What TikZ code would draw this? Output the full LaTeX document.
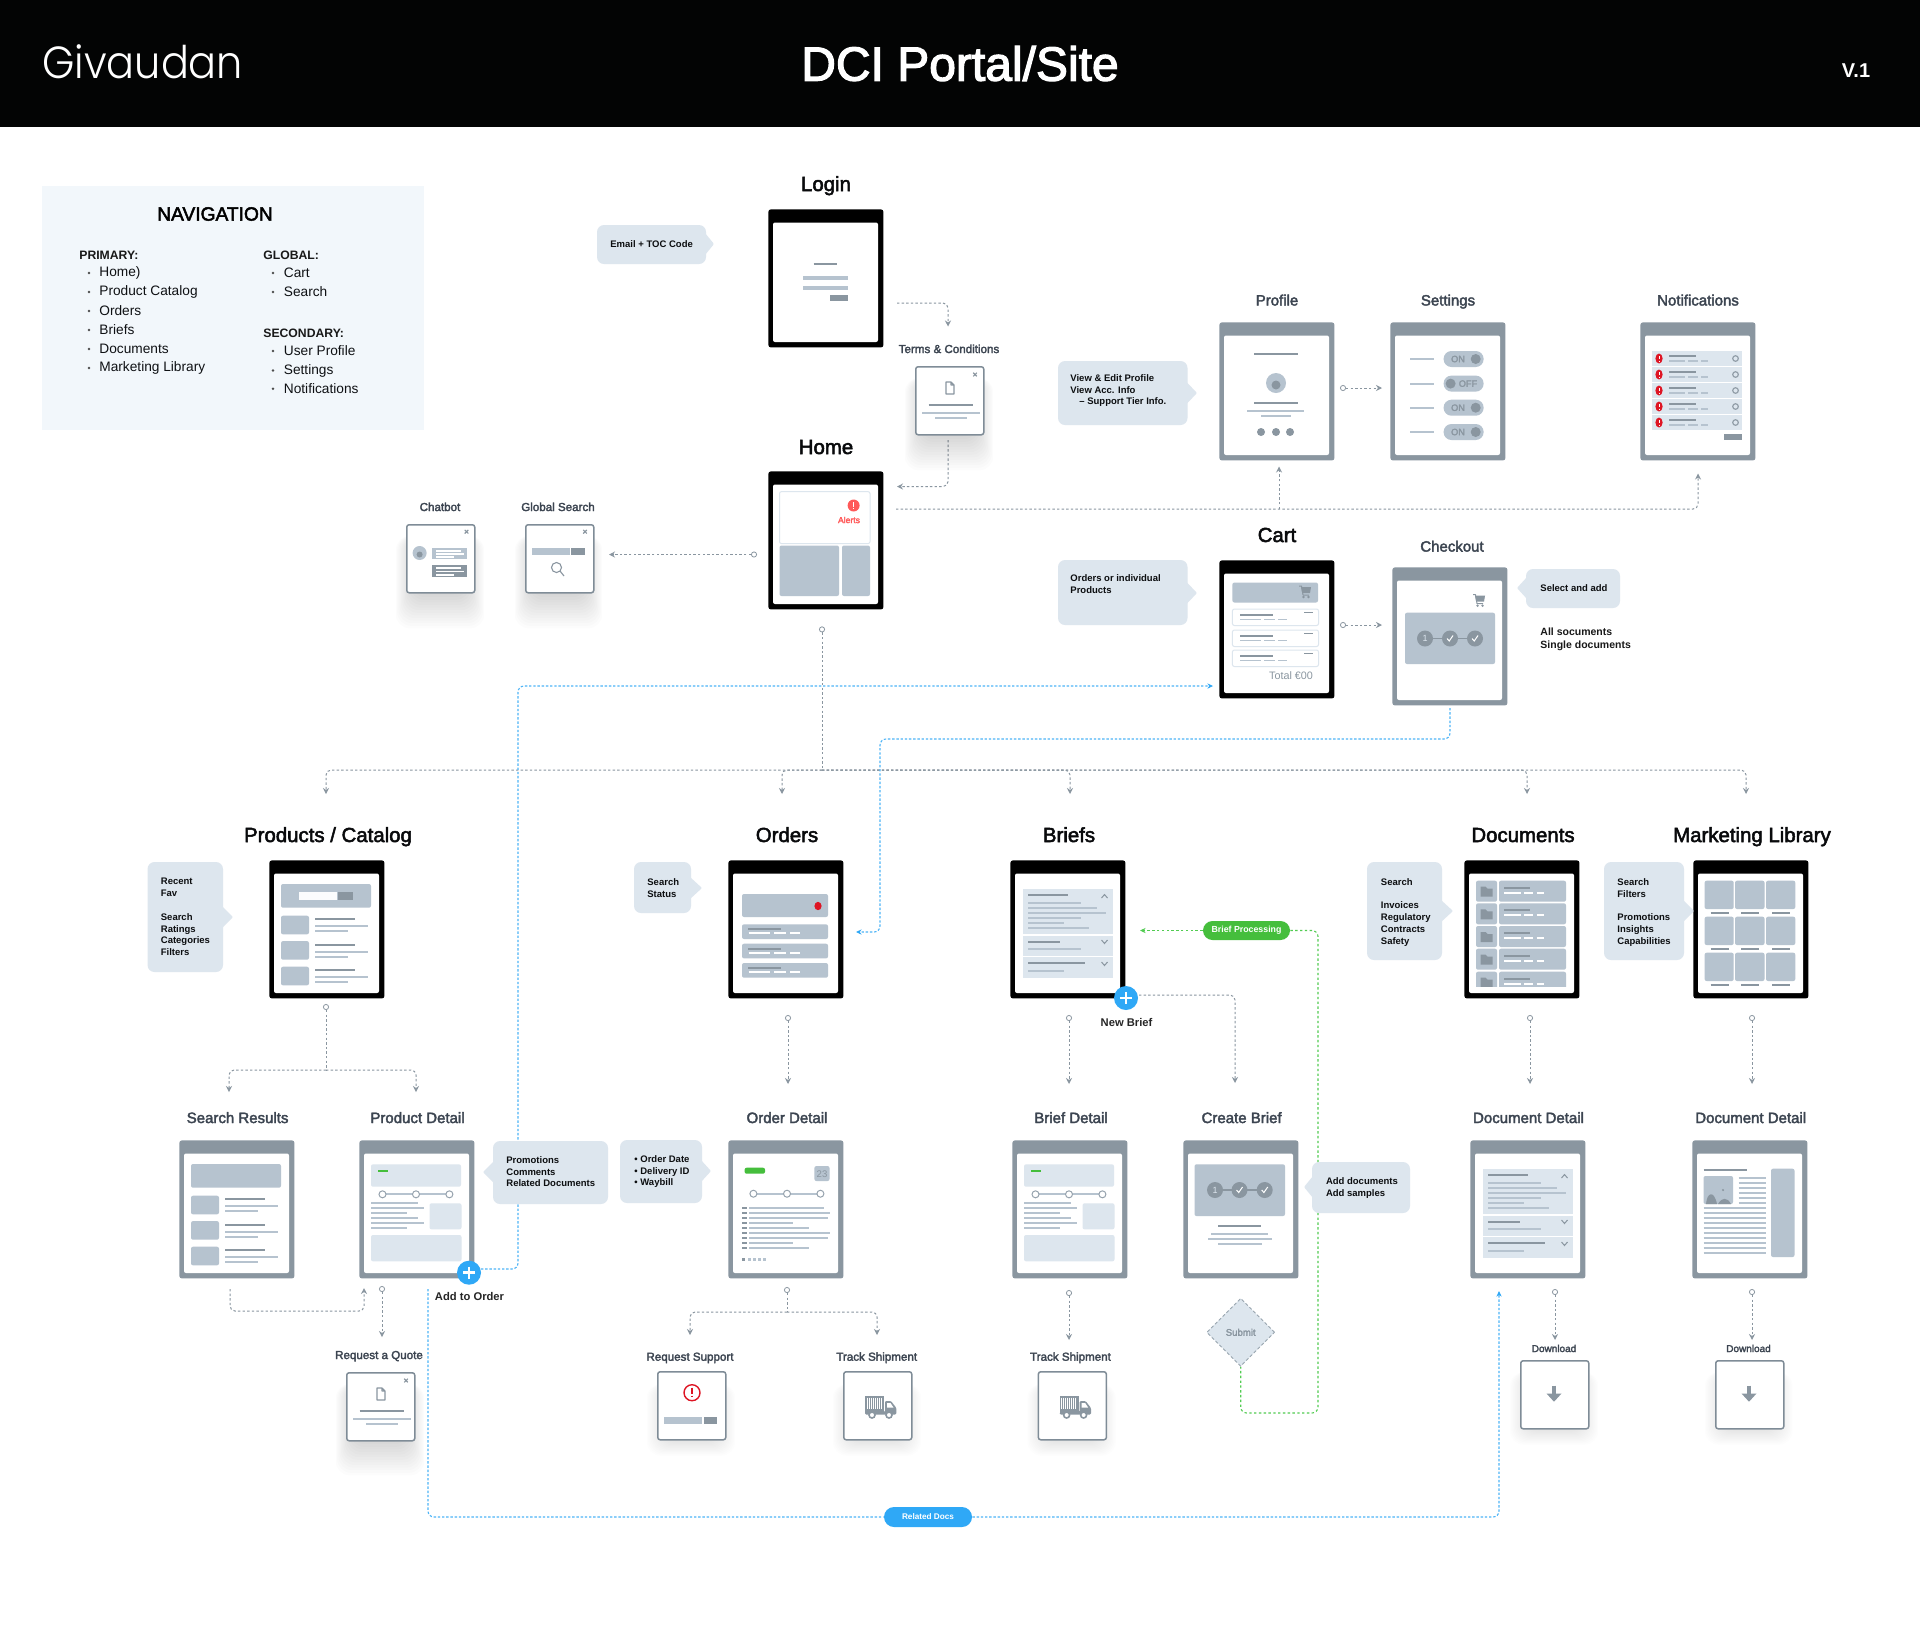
\documentclass[tikz,border=0pt]{standalone}
\usepackage{fontspec}
\setmainfont{Liberation Sans}
\newfontfamily\medf[FakeBold=2.5]{Liberation Sans}
\newfontfamily\logof{Poppins Light}
\usetikzlibrary{arrows.meta,shapes.geometric,shapes.misc,calc}
\definecolor{frameG}{HTML}{8A96A0}
\definecolor{blockB}{HTML}{B6C3CF}
\definecolor{lightB}{HTML}{DDE6EE}
\definecolor{navbg}{HTML}{F2F7FB}
\definecolor{cblue}{HTML}{2FA8F6}
\definecolor{cgreen}{HTML}{45BE3C}
\definecolor{cdash}{HTML}{52CC52}
\definecolor{cred}{HTML}{DE1524}
\definecolor{ink}{HTML}{3C4551}
\definecolor{popline}{HTML}{7F8C97}
\pgfdeclarelayer{conn}
\pgfsetlayers{conn,main}
\newcounter{autonode}
\newcommand{\tn}[3][]{\stepcounter{autonode}\node[inner sep=0pt,#1] (n\theautonode) at (#2) {#3};}
\tikzset{
 ttl/.style={font=\medf\fontsize{10.2}{12}\selectfont,text=black!85!ink,anchor=base},
 subt/.style={font=\medf\fontsize{7.5}{9}\selectfont,text=ink,anchor=base},
 capt/.style={font=\medf\fontsize{5.8}{7}\selectfont,text=ink,anchor=base},
 calt/.style={font=\bfseries\fontsize{4.75}{5.9}\selectfont,text=black!80!ink,align=left,anchor=north west},
 navh/.style={font=\bfseries\fontsize{6.1}{7}\selectfont,anchor=west,text=black!90},
 navi/.style={font=\fontsize{6.85}{8}\selectfont,anchor=west,text=black!75!ink},
 screenbox/.style={minimum width=57.5pt,minimum height=69pt,inner sep=0pt,rounded corners=1.2pt,anchor=north west},
 popbox/.style={draw=popline,line width=.75pt,fill=white,minimum width=34pt,minimum height=34pt,inner sep=0pt,rounded corners=1.2pt,anchor=north west},
 lbar/.style={draw=blockB,line width=.95pt},
 dbar/.style={draw=frameG,line width=.95pt},
 wbar/.style={draw=white,line width=.85pt},
 conn/.style={draw=frameG,line width=.5pt,dash pattern=on 1.2pt off 1.1pt,rounded corners=2.5pt},
 bconn/.style={draw=cblue!85!white,line width=.55pt,dash pattern=on 1.2pt off .9pt,rounded corners=3pt},
 gconn/.style={draw=cdash,line width=.55pt,dash pattern=on 1.2pt off 1.2pt,rounded corners=3pt},
 gtip/.style={-{Stealth[length=3pt,width=3pt,color=frameG]}},
 btip/.style={-{Stealth[length=2.8pt,width=2.6pt,color=cblue]}},
 grtip/.style={-{Stealth[length=2.8pt,width=2.6pt,color=cdash]}},
 dotn/.style={circle,draw=frameG,fill=white,line width=.4pt,minimum size=2.6pt,inner sep=0pt},
 plusn/.style={circle,fill=cblue,minimum size=12pt,inner sep=0pt},
}
\newcommand{\wfat}[3]{\begin{scope}[shift={(#1,#2)}]#3\end{scope}}
\newcommand{\wfscreen}[4]{\node[screenbox,fill=#4] (#1) at (#2,#3) {};
 \fill[white,rounded corners=1pt] (#2+5,#3+13.5) rectangle (#2+110,#3+133);}
\newcommand{\wfB}[5]{\fill[#5,rounded corners=1pt] (#1,#2) rectangle (#3,#4);}
\newcommand{\wfS}[5]{\fill[#5] (#1,#2) rectangle (#3,#4);}
\newcommand{\wfL}[3]{\draw[lbar] (#1,#3) -- (#2,#3);}
\newcommand{\wfD}[3]{\draw[dbar] (#1,#3) -- (#2,#3);}
\newcommand{\wfW}[3]{\draw[wbar] (#1,#3) -- (#2,#3);}
\newcommand{\wfUp}[2]{\draw[frameG,line width=.5pt] (#1-3,#2+2) -- (#1,#2-1.5) -- (#1+3,#2+2);}
\newcommand{\wfDn}[2]{\draw[frameG,line width=.5pt] (#1-3,#2-2) -- (#1,#2+1.5) -- (#1+3,#2-2);}
\newcommand{\wfX}[2]{\draw[frameG,line width=.55pt] (#1-1.8,#2-1.8) -- (#1+1.8,#2+1.8) (#1-1.8,#2+1.8) -- (#1+1.8,#2-1.8);}
\newcommand{\wfCart}[2]{\draw[frameG,line width=.5pt,line join=round] (#1-6,#2-6) -- (#1-3.5,#2-6) -- (#1-2,#2+3) -- (#1+4,#2+3);
 \fill[frameG] (#1-4,#2-5) -- (#1+6,#2-5) -- (#1+5,#2+1) -- (#1-2.8,#2+1) -- cycle;
 \fill[frameG] (#1-1.5,#2+5) circle (1.3) (#1+3.5,#2+5) circle (1.3);}
\newcommand{\wfDoc}[2]{\draw[frameG,line width=.6pt,line join=round] (#1-4,#2-6) -- (#1+1,#2-6) -- (#1+4,#2-3) -- (#1+4,#2+6) -- (#1-4,#2+6) -- cycle (#1+1,#2-6) -- (#1+1,#2-3) -- (#1+4,#2-3);}
\newcommand{\wfFolder}[2]{\fill[frameG] (#1-6,#2-5) -- (#1-1,#2-5) -- (#1+1,#2-3) -- (#1+6,#2-3) -- (#1+6,#2+5) -- (#1-6,#2+5) -- cycle;}
\newcommand{\wfTime}[4]{\draw[blockB,line width=1.1pt] (#1,#4) -- (#3,#4);
 \foreach \cx in {#1,#2,#3} {\draw[frameG!70!blockB,fill=white,line width=.5pt] (\cx,#4) circle (3.5);}}
\newcommand{\wfSteps}[4]{\draw[frameG,line width=.9pt] (#1,#4) -- (#3,#4);
 \fill[frameG] (#1,#4) circle (8) (#2,#4) circle (8) (#3,#4) circle (8);
 \tn[font=\fontsize{4.5}{5}\selectfont,text=lightB]{#1,#4}{1}
 \draw[white,line width=.5pt] (#2-3,#4) -- (#2-.8,#4+2.5) -- (#2+3,#4-3);
 \draw[white,line width=.5pt] (#3-3,#4) -- (#3-.8,#4+2.5) -- (#3+3,#4-3);}
\newcommand{\wfListRows}{
 \foreach \oo in {0,25.4,51}{
  \wfB{12}{55.7+\oo}{40}{74.3+\oo}{blockB}
  \wfD{46}{86}{59.3+\oo}
  \wfL{46}{98.5}{66.3+\oo}
  \wfL{46}{78.5}{71.3+\oo}}}
\newcommand{\wfAccordion}{
 \wfS{13}{29}{102.7}{74}{lightB}\wfS{13}{75.7}{102.7}{95.7}{lightB}\wfS{13}{97.3}{102.7}{117.7}{lightB}
 \wfD{18}{58}{35.3}\wfUp{94.5}{36}
 \wfL{18}{70.6}{42.7}\wfL{18}{87}{48}\wfL{18}{96}{53}\wfL{18}{71}{58}\wfL{18}{53.5}{63}\wfL{18}{78.7}{68}
 \wfD{18}{50}{81.7}\wfDn{94.5}{82}\wfL{18}{71}{89}
 \wfD{18}{75}{103.3}\wfDn{94.5}{104}\wfL{18}{53.5}{110.7}}
\newcommand{\wfDetail}{
 \wfB{12}{24.3}{102}{46.7}{lightB}
 \wfS{19}{29.8}{29}{31.8}{cgreen}
 \wfTime{23.5}{57}{90.4}{54.3}
 \wfL{12}{58.5}{63.3}\wfL{12}{65}{68.3}\wfL{12}{48}{73.3}\wfL{12}{58.5}{78.3}\wfL{12}{65}{83.3}\wfL{12}{48}{88.3}
 \wfB{70.5}{63.3}{102.5}{89.3}{lightB}
 \wfB{12}{95}{102.5}{121.3}{lightB}}
\newcommand{\wfToggle}[4]{\fill[blockB,rounded corners=3.9pt] (53.6,#1-8) rectangle (93.6,#1+8);
 \fill[frameG] (#2,#1) circle (5);
 \tn[font=\medf\fontsize{4.6}{5}\selectfont,text=frameG]{#3,#1}{#4}
 \wfL{20}{44}{#1}}
\newcommand{\softshadow}[6]{\foreach \ii in {1,...,14}{\fill[black,opacity=#5,rounded corners=7pt] ({#1+8-\ii*1.3},{#2+12}) rectangle ({#3-8+\ii*1.3},{#4+\ii*#6});}}
\newcommand{\wfPopDoc}{\wfX{60}{8.5}\wfDoc{35}{22}\wfD{13.5}{57.5}{38.7}\wfL{7}{64.5}{46.7}\wfL{20.4}{52}{51.8}}
\newcommand{\wfDown}{\draw[frameG,line width=1.8pt] (34,25.7) -- (34,36);\fill[frameG] (26.5,33.5) -- (41.5,33.5) -- (34,41.7) -- cycle;}
\newcommand{\callbox}[6]{\fill[lightB,rounded corners=3.5pt] (#1,#2) rectangle (#3,#4);
 \ifdim #5pt>#3pt \fill[lightB,rounded corners=.5pt] (#3-1,#6-11) -- (#5,#6) -- (#3-1,#6+11) -- cycle;
 \else \fill[lightB,rounded corners=.5pt] (#1+1,#6-11) -- (#5,#6) -- (#1+1,#6+11) -- cycle; \fi}
\begin{document}
\begin{tikzpicture}[x=.5pt,y=-.5pt]
\useasboundingbox (0,0) rectangle (1920,1629);
% ---------- header
\fill[black!95!ink] (0,0) rectangle (1920,127);
\tn[font=\logof\fontsize{22.5}{26}\selectfont,text=white,anchor=west,xscale=.92]{42,62}{Givaudan}
\tn[font=\medf\fontsize{24}{28}\selectfont,text=white]{960,63.5}{DCI Portal/Site}
\tn[font=\bfseries\fontsize{10}{12}\selectfont,text=white]{1856,71}{V.1}
% ---------- navigation
\fill[navbg] (42,186) rectangle (424,430);
\tn[font=\medf\fontsize{9.6}{11}\selectfont,text=black]{215,214}{NAVIGATION}
\tn[navh]{79,254.8}{PRIMARY:}
\foreach \yy/\tx in {273/Home),292/Product Catalog,311/Orders,330/Briefs,349/Documents,368/Marketing Library}{
 \fill[black!70] (89,\yy) circle (1.4);\tn[navi]{99,\yy}{\tx}}
\tn[navh]{263,254.8}{GLOBAL:}
\foreach \yy/\tx in {273/Cart,292/Search}{
 \fill[black!70] (273,\yy) circle (1.4);\tn[navi]{283.5,\yy}{\tx}}
\tn[navh]{263,333}{SECONDARY:}
\foreach \yy/\tx in {351/User Profile,370.5/Settings,388.7/Notifications}{
 \fill[black!70] (273,\yy) circle (1.4);\tn[navi]{283.5,\yy}{\tx}}
% ---------- screens row 1
\tn[ttl]{826,191}{Login}
\wfscreen{login}{768}{209}{black}
\wfat{768}{209}{\wfD{45.6}{68.8}{54.6}
 \draw[blockB,line width=2pt] (35,68.5) -- (80,68.5) (35,78.6) -- (80,78.6);
 \wfS{61.6}{86}{80}{92}{frameG}}
\tn[ttl]{826,454}{Home}
\wfscreen{home}{768}{471}{black}
\wfat{768}{471}{\draw[lightB,fill=white,line width=.5pt,rounded corners=1pt] (11.5,20.6) rectangle (102,72.6);
 \fill[red!65!white] (85.6,34.5) circle (6);
 \draw[white,line width=.7pt] (85.6,31) -- (85.6,35.5) (85.6,37) -- (85.6,38.2);
 \tn[font=\medf\fontsize{4.3}{5}\selectfont,text=red!65!white]{81,49}{Alerts}
 \wfB{11.5}{74.5}{71}{125}{blockB}\wfB{74}{74.5}{102}{125}{blockB}}
\tn[capt]{949,353}{Terms \& Conditions}
\softshadow{915}{366}{983}{434}{.011}{2.6}
\node[popbox] (tc) at (915,366) {};
\wfat{915}{366}{\wfPopDoc}
\tn[capt]{440,511}{Chatbot}
\softshadow{406}{524}{474}{592}{.011}{2.6}
\node[popbox] (chat) at (406,524) {};
\wfat{406}{524}{\wfX{60.5}{7.7}
 \fill[blockB] (13.6,29) circle (7);\fill[frameG] (13.6,30.5) circle (3) ;
 \wfS{26}{24}{61}{35}{blockB}\wfW{30}{55}{27}\wfW{30}{58}{30}\wfW{30}{48}{33}
 \wfS{26}{41}{61}{52.7}{frameG}\wfW{30}{55}{44}\wfW{30}{58}{47.5}\wfW{30}{48}{51}}
\tn[capt]{558,511}{Global Search}
\softshadow{525}{524}{592}{592}{.011}{2.6}
\node[popbox] (gsearch) at (525,524) {};
\wfat{525}{524}{\wfX{60}{7.7}
 \wfS{6.7}{24}{44.6}{31}{blockB}\wfS{46}{24}{60.2}{31}{frameG}
 \draw[frameG,line width=.55pt] (31.5,43.5) circle (5) (35,47) -- (39,52);}
\tn[subt]{1277,305.5}{Profile}
\wfscreen{profile}{1219}{322}{frameG}
\wfat{1219}{322}{\wfD{35}{78.7}{32}
 \fill[blockB] (57,61) circle (10);\fill[frameG] (57,63) circle (4.5);
 \wfD{35}{78.7}{81}\wfL{28}{85}{89}\wfL{42}{72}{94}
 \fill[frameG] (42,110) circle (4) (57,110) circle (4) (71,110) circle (4);}
\tn[subt]{1448,305.5}{Settings}
\wfscreen{settings}{1390}{322}{frameG}
\wfat{1390}{322}{\wfToggle{37}{85.7}{68}{ON}\wfToggle{61.6}{60.6}{78}{OFF}\wfToggle{85.7}{85.7}{68}{ON}\wfToggle{110}{85.7}{68}{ON}}
\tn[subt]{1698,305.5}{Notifications}
\wfscreen{notif}{1640}{322}{frameG}
\wfat{1640}{322}{\foreach \rr in {29,45,61,77,93}{
  \wfS{12}{\rr}{101.7}{\rr+15}{lightB}
  \fill[cred] (19,\rr+7.5) ellipse (3.6 and 5);
  \draw[white,line width=.35pt] (19,\rr+5) -- (19,\rr+8.4) (19,\rr+9.5) -- (19,\rr+10.5);
  \wfD{29}{55.5}{\rr+5}
  \wfL{29}{45}{\rr+10}\wfL{48}{58}{\rr+10}\wfL{61}{68}{\rr+10}
  \draw[frameG!80!blockB,line width=.6pt] (95.5,\rr+7.5) circle (2.8);}
 \wfS{84}{112}{102}{118}{frameG}}
\tn[ttl]{1277,542}{Cart}
\wfscreen{cart}{1219}{560}{black}
\wfat{1219}{560}{\wfB{13.4}{22.5}{99}{42.5}{blockB}\wfCart{86}{32}
 \foreach \rr in {49,70,90}{
  \draw[lightB,fill=white,line width=.5pt,rounded corners=1pt] (13.4,\rr) rectangle (99.5,\rr+16.5);
  \wfD{21}{54}{\rr+6}\wfD{85}{94}{\rr+3.5}
  \wfL{21}{42}{\rr+10.5}\wfL{45}{56}{\rr+10.5}\wfL{59}{68}{\rr+10.5}}
 \tn[font=\fontsize{5.4}{6}\selectfont,text=frameG]{72,116}{Total €00}}
\tn[subt]{1452,551.6}{Checkout}
\wfscreen{checkout}{1392}{567}{frameG}
\wfat{1392}{567}{\wfCart{87}{33.7}\wfB{13}{45.7}{103}{97}{blockB}\wfSteps{33}{58}{83}{71.5}}
% ---------- section row
\tn[ttl]{328,842}{Products / Catalog}
\wfscreen{products}{269}{860}{black}
\wfat{269}{860}{\wfB{12}{24}{102}{47.7}{blockB}\wfS{30}{32.3}{68}{40}{white!95!blockB}\wfS{69}{32.3}{83.5}{40}{frameG}\wfListRows}
\tn[ttl]{787,842}{Orders}
\wfscreen{orders}{728}{860}{black}
\wfat{728}{860}{\wfB{14}{34}{100}{57}{blockB}
 \fill[cred] (90,46) ellipse (3.6 and 4.2);
 \foreach \rr in {64.3,83.7,103}{
 \wfB{14}{\rr}{100}{\rr+14.7}{blockB}\wfD{20}{53}{\rr+5}\wfW{20.6}{42}{\rr+9}\wfW{46}{58}{\rr+9}\wfW{62}{71.6}{\rr+9}}}
\tn[ttl]{1069,842}{Briefs}
\wfscreen{briefs}{1010}{860}{black}
\wfat{1010}{860}{\wfAccordion}
\tn[ttl]{1523,842}{Documents}
\wfscreen{documents}{1464}{860}{black}
\wfat{1464}{860}{\begin{scope}\clip (5,13.5) rectangle (110,126);
 \foreach \rr in {20.7,43.3,66,88.7,111.7}{
 \wfB{12}{\rr}{33}{\rr+21}{blockB}\wfB{35}{\rr}{102}{\rr+21}{blockB}
 \wfFolder{22.5}{\rr+11}
 \wfD{40}{66}{\rr+7}\wfW{40}{57}{\rr+12}\wfW{60}{69}{\rr+12}\wfW{72.5}{79.5}{\rr+12}}
 \end{scope}}
\tn[ttl]{1752,842}{Marketing Library}
\wfscreen{marketing}{1693}{860}{black}
\wfat{1693}{860}{\foreach \rr in {20.7,56.7,92.7}{
 \wfB{11.6}{\rr}{40.7}{\rr+28.3}{blockB}\wfB{42}{\rr}{71.5}{\rr+28.3}{blockB}\wfB{73}{\rr}{102.3}{\rr+28.3}{blockB}
 \wfD{17.6}{35.7}{\rr+32.3}\wfD{48}{66.4}{\rr+32.3}\wfD{79}{97}{\rr+32.3}}}
% ---------- detail row
\tn[subt]{237.6,1123}{Search Results}
\wfscreen{sresults}{179}{1140}{frameG}
\wfat{179}{1140}{\wfB{12}{24}{102}{47.7}{blockB}\wfListRows}
\tn[subt]{417.5,1123}{Product Detail}
\wfscreen{pdetail}{359}{1140}{frameG}
\wfat{359}{1140}{\wfDetail}
\tn[subt]{787,1123}{Order Detail}
\wfscreen{odetail}{728}{1140}{frameG}
\wfat{728}{1140}{\wfB{16.6}{27.7}{37}{33.7}{cgreen}
 \wfB{86.4}{26}{101.5}{41}{blockB}
 \tn[font=\fontsize{4.8}{5}\selectfont,text=frameG]{94,34.5}{23}
 \wfTime{25.4}{59}{92.4}{53.7}
 \foreach \yy/\xe in {68.3/96,73.3/102,78.3/99.5,83.3/64.5,88.3/81,93.3/102,98.3/99.5,103.3/64.5,108.3/81}{
  \wfS{14}{\yy-1}{19}{\yy+1}{frameG}\wfL{21.4}{\xe}{\yy}}
 \wfS{14}{117.5}{17}{120.5}{frameG}
 \foreach \xx in {20,25,30,35}{\wfS{\xx}{117.5}{\xx+3}{120.5}{blockB}}}
\tn[subt]{1071,1123}{Brief Detail}
\wfscreen{bdetail}{1012}{1140}{frameG}
\wfat{1012}{1140}{\wfDetail}
\tn[subt]{1241.6,1123}{Create Brief}
\wfscreen{cbrief}{1183}{1140}{frameG}
\wfat{1183}{1140}{\wfB{11.5}{24.3}{102}{76}{blockB}\wfSteps{32}{56.5}{81.7}{50}
 \wfD{35}{78}{86}\wfL{28}{85}{94.3}\wfL{25}{89}{99.3}\wfL{35}{79}{104.3}}
\tn[subt]{1528.5,1123}{Document Detail}
\wfscreen{ddetail}{1470}{1140}{frameG}
\wfat{1470}{1140}{\wfAccordion}
\tn[subt]{1750.7,1123}{Document Detail}
\wfscreen{ddetailb}{1692}{1140}{frameG}
\wfat{1692}{1140}{\wfD{11.5}{55}{29.7}
 \wfB{11.5}{36}{41}{64}{blockB}
 \fill[frameG] (14,64) .. controls (15,52) and (22,50) .. (25,64) -- cycle;
 \fill[frameG] (26,64) .. controls (30,57) and (35,57) .. (39,64) -- cycle;
 \fill[frameG] (31,50) circle (1.2);
 \foreach \yy in {38,43,48,53,58,63}{\wfL{46.5}{74}{\yy}}
 \foreach \yy in {68,73,78,83,88,93,98,103,108,113}{\wfL{11.5}{74}{\yy}}
 \wfB{79}{28.7}{102.5}{117}{blockB}}
% ---------- popups lower
\tn[capt]{379,1359}{Request a Quote}
\softshadow{346}{1372}{414}{1439}{.011}{2.6}
\node[popbox] (quote) at (346,1372) {};
\wfat{346}{1372}{\wfPopDoc}
\tn[capt]{690,1360.7}{Request Support}
\softshadow{657}{1372}{725}{1439}{.008}{1.2}
\node[popbox] (support) at (657,1371) {};
\wfat{657}{1371}{\draw[cred,line width=.7pt] (35,21.7) circle (8);
 \draw[cred,line width=.8pt] (35,16.5) -- (35,23) (35,24.6) -- (35,26.2);
 \wfS{7}{45.7}{45}{53.3}{blockB}\wfS{47}{45.7}{60}{53.3}{frameG}}
\newcommand{\wfTruck}{\fill[frameG] (22,24.7) rectangle (41,41.5);
 \foreach \xx in {24,26,28,30,32,34,36,38}{\draw[white,line width=.25pt] (\xx,26.5) -- (\xx,38);}
 \fill[frameG,rounded corners=.6pt] (42,30) -- (48,30) -- (53.4,37) -- (53.4,43.5) -- (22,43.5) -- (22,41) -- (42,41) -- cycle;
 \fill[white] (44,32) -- (47.5,32) -- (50.5,36.5) -- (44,36.5) -- cycle;
 \draw[frameG,fill=white,line width=.8pt] (29,44) circle (3) (46,44) circle (3);}
\tn[capt]{876.7,1360.7}{Track Shipment}
\softshadow{843}{1372}{911}{1439}{.008}{1.2}
\node[popbox] (trucka) at (843,1371) {};
\wfat{843}{1371}{\wfTruck}
\tn[capt]{1070.5,1360.7}{Track Shipment}
\softshadow{1037.6}{1372}{1105.6}{1439}{.008}{1.2}
\node[popbox] (truckb) at (1037.6,1371) {};
\wfat{1037.6}{1371}{\wfTruck}
\tn[font=\medf\fontsize{5}{6}\selectfont,text=ink,anchor=base]{1554,1352}{Download}
\softshadow{1520}{1360}{1588}{1428}{.008}{1.2}
\node[popbox] (dla) at (1520,1360) {};
\wfat{1520}{1360}{\wfDown}
\tn[font=\medf\fontsize{5}{6}\selectfont,text=ink,anchor=base]{1748.5,1352}{Download}
\softshadow{1715}{1360}{1782.5}{1428}{.008}{1.2}
\node[popbox] (dlb) at (1715,1360) {};
\wfat{1715}{1360}{\wfDown}
\node[diamond,aspect=1,draw=frameG!70!blockB,fill=lightB,line width=.45pt,dash pattern=on 1.6pt off 1.1pt,minimum size=34pt,inner sep=0pt,font=\medf\fontsize{4.8}{5}\selectfont,text=frameG] (submit) at (1240.7,1332.3) {Submit};
% ---------- callouts
\callbox{597}{225}{706}{264}{714}{244}
\tn[font=\bfseries\fontsize{4.75}{5.9}\selectfont,text=black!80!ink,anchor=west]{610,244}{Email + TOC Code}
\callbox{1058}{361}{1187.5}{425}{1197}{393}
\tn[calt]{1070,374}{View \& Edit Profile\\View Acc. Info\\\hspace*{4.5pt}– Support Tier Info.}
\callbox{1058}{560}{1187.5}{625}{1197}{593}
\tn[calt]{1070,574}{Orders or individual\\Products}
\callbox{1526}{569}{1620}{608}{1517}{588}
\tn[font=\bfseries\fontsize{4.75}{5.9}\selectfont,text=black!80!ink,anchor=west]{1540,588}{Select and add}
\tn[font=\bfseries\fontsize{5.25}{6.6}\selectfont,text=black!90,align=left,anchor=north west]{1540,627}{All socuments\\Single documents}
\callbox{147.5}{862}{223}{972}{233}{917}
\tn[calt]{160.5,878}{Recent\\Fav\\[5.9pt]Search\\Ratings\\Categories\\Filters}
\callbox{634}{862}{691}{913}{702}{888}
\tn[calt]{647,878}{Search\\Status}
\callbox{493}{1141}{608}{1204}{483}{1172}
\tn[calt]{506,1156}{Promotions\\Comments\\Related Documents}
\callbox{620}{1140}{702}{1203}{711}{1171}
\tn[calt]{634,1155}{• Order Date\\• Delivery ID\\• Waybill}
\callbox{1367}{862}{1442}{960}{1453}{911}
\tn[calt]{1380.5,878}{Search\\[5.9pt]Invoices\\Regulatory\\Contracts\\Safety}
\callbox{1604}{862}{1684}{960}{1694}{911}
\tn[calt]{1617,878}{Search\\Filters\\[5.9pt]Promotions\\Insights\\Capabilities}
\callbox{1312}{1162}{1410}{1213}{1304}{1187}
\tn[calt]{1325.6,1177}{Add documents\\Add samples}
% ---------- buttons, pills, dots
\node[plusn] (plusPD) at (469,1272.7) {};
\draw[white,line width=1.25pt] (plusPD.center)+(-6,0) -- +(6,0) (plusPD.center)+(0,-6) -- +(0,6);
\tn[font=\bfseries\fontsize{5.6}{7}\selectfont,text=black!85]{469.5,1296.7}{Add to Order}
\node[plusn] (plusB) at (1126,998) {};
\draw[white,line width=1.25pt] (plusB.center)+(-6,0) -- +(6,0) (plusB.center)+(0,-6) -- +(0,6);
\tn[font=\bfseries\fontsize{5.6}{7}\selectfont,text=black!85]{1126.5,1022}{New Brief}
\node[rounded rectangle,fill=cgreen,text=white,minimum width=43.5pt,minimum height=9.5pt,inner sep=0pt,font=\bfseries\fontsize{4.4}{5}\selectfont] (pillBP) at (1246.5,930.5) {Brief Processing};
\node[rounded rectangle,fill=cblue,text=white,minimum width=44pt,minimum height=10pt,inner sep=0pt,font=\bfseries\fontsize{4.1}{5}\selectfont] (pillRD) at (928,1517) {Related Docs};
\node[dotn] (dProfile) at (1343,388) {};
\node[dotn] (dCart) at (1343,625) {};
\node[dotn] (dHomeL) at (754,554.5) {};
\node[dotn] (dHome) at (822,629.4) {};
\node[dotn] (dProducts) at (326,1007) {};
\node[dotn] (dOrders) at (788,1018) {};
\node[dotn] (dBriefs) at (1069,1018) {};
\node[dotn] (dDocs) at (1530,1018) {};
\node[dotn] (dMkt) at (1752,1018) {};
\node[dotn] (dPD) at (382,1289) {};
\node[dotn] (dOD) at (787,1290) {};
\node[dotn] (dBD) at (1069,1293) {};
\node[dotn] (dDD) at (1555,1292) {};
\node[dotn] (dDDb) at (1752,1292) {};
% ---------- free connector ends
\foreach \nm/\cc in {a1/{897,303},a2/{948,326.5},a3/{948,440},a4/{897,486.5},a5/{896,509},a6/{1698,473.5},a7/{1279,509},a8/{1279,466.5},
 a9/{1382,388},a10/{1382,625},a11/{609,554.5},t0/{822,770},t1/{326,794},t2/{782,794},t3/{1070,794},t4/{1527,794},t5/{1746,794},
 b1/{481,1269},b2/{518,686},b3/{1213,686},b4/{1450,708},b5/{880,739},b6/{856,932},
 p1/{326,1070},p2/{229,1092},p3/{416,1092},e1/{788,1084},e2/{1069,1084},e3/{1530,1084},e4/{1752,1084},
 s1/{230,1289},s2/{364,1311},s3/{364,1288},q1/{382,1337},o1/{787,1312},o2/{690,1335},o3/{877,1335},
 r1/{428,1289},r2/{1499,1291},n1/{1139,995},n2/{1235,1083},g1/{1140,930.5},g2/{1318,1413},
 v1/{1069,1340},v2/{1555,1340},v3/{1752,1340}}{\coordinate (\nm) at (\cc);}
\begin{pgfonlayer}{conn}
\fill[white] (0,0) rectangle (1920,1629);
\draw[conn,gtip] (a1) -| (a2);
\draw[conn,gtip] (a3) |- (a4);
\draw[conn,gtip] (a5) -| (a6);
\draw[conn,gtip] (a7) -- (a8);
\draw[conn,gtip] (dProfile) -- (a9);
\draw[conn,gtip] (dCart) -- (a10);
\draw[conn,gtip] (dHomeL) -- (a11);
\draw[conn] (dHome) -- (t0);
\foreach \ee in {t1,t2,t3,t4,t5}{\draw[conn,gtip] (t0) -| (\ee);}
\draw[bconn,btip] (b1) -| (b2) -- (b3);
\draw[bconn,btip] (b4) |- (b5) |- (b6);
\draw[conn] (dProducts) -- (p1);
\draw[conn,gtip] (p1) -| (p2);
\draw[conn,gtip] (p1) -| (p3);
\draw[conn,gtip] (dOrders) -- (e1);
\draw[conn,gtip] (dBriefs) -- (e2);
\draw[conn,gtip] (dDocs) -- (e3);
\draw[conn,gtip] (dMkt) -- (e4);
\draw[conn,gtip] (s1) |- (s2) -- (s3);
\draw[conn,gtip] (dPD) -- (q1);
\draw[conn] (dOD) -- (o1);
\draw[conn,gtip] (o1) -| (o2);
\draw[conn,gtip] (o1) -| (o3);
\draw[bconn] (r1) |- (pillRD.west);
\draw[bconn,btip] (pillRD.east) -| (r2);
\draw[conn,gtip] (n1) -| (n2);
\draw[gconn,grtip] (pillBP.west) -- (g1);
\draw[gconn] (pillBP.east) -| (g2) -| (submit.south);
\draw[conn,gtip] (dBD) -- (v1);
\draw[conn,gtip] (dDD) -- (v2);
\draw[conn,gtip] (dDDb) -- (v3);
\end{pgfonlayer}
\end{tikzpicture}
\end{document}
